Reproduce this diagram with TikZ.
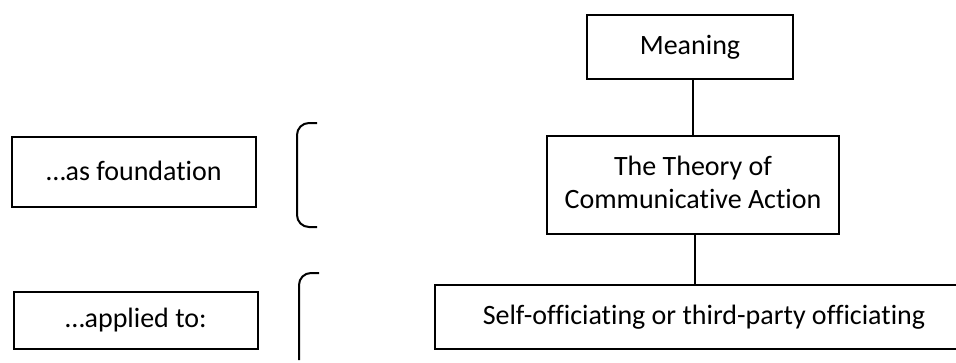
\documentclass[tikz,border=0pt]{standalone}
\usepackage{fontspec}
\setmainfont{Carlito}[Ligatures=NoCommon]
\begin{document}
\begin{tikzpicture}[x=1pt,y=-1pt,
  box/.style={draw=black,line width=1.5pt,inner sep=0pt,align=center,
    font=\fontsize{28}{33}\selectfont},
  link/.style={draw=black,line width=1.5pt},
  brace/.style={draw=black,line width=2pt,rounded corners=12pt}]
\clip (0,0) rectangle (956,362);
\fill[white] (0,0) rectangle (956,362);
\node[box,minimum width=206pt,minimum height=64pt] (meaning) at (690,47) {\raisebox{3pt}{Meaning}};
\node[box,minimum width=292pt,minimum height=98pt] (theory) at (693,185) {\raisebox{3pt}{\begin{tabular}{@{}c@{}}The Theory of\\Communicative Action\end{tabular}}};
\node[box,minimum width=538pt,minimum height=64pt] (offic) at (704,317) {\raisebox{3pt}{Self-officiating or third-party officiating}};
\node[box,minimum width=244pt,minimum height=70pt] (found) at (134,172) {\raisebox{2pt}{…as foundation}};
\node[box,minimum width=244pt,minimum height=57pt] (applied) at (136,320.5) {…applied to:};
\draw[link] (theory.north) -- (theory.north |- meaning.south);
\draw[link] (theory.south) ++(2,0) coordinate (ts) -- (ts |- offic.north);
\coordinate (b1a) at (317,123);
\coordinate (b1b) at (297,123);
\coordinate (b1c) at (297,227);
\coordinate (b1d) at (317,227);
\draw[brace] (b1a) -- (b1b) -- (b1c) -- (b1d);
\coordinate (b2a) at (319,273);
\coordinate (b2b) at (299,273);
\coordinate (b2c) at (299,360);
\draw[brace] (b2a) -- (b2b) -- (b2c);
\end{tikzpicture}
\end{document}
